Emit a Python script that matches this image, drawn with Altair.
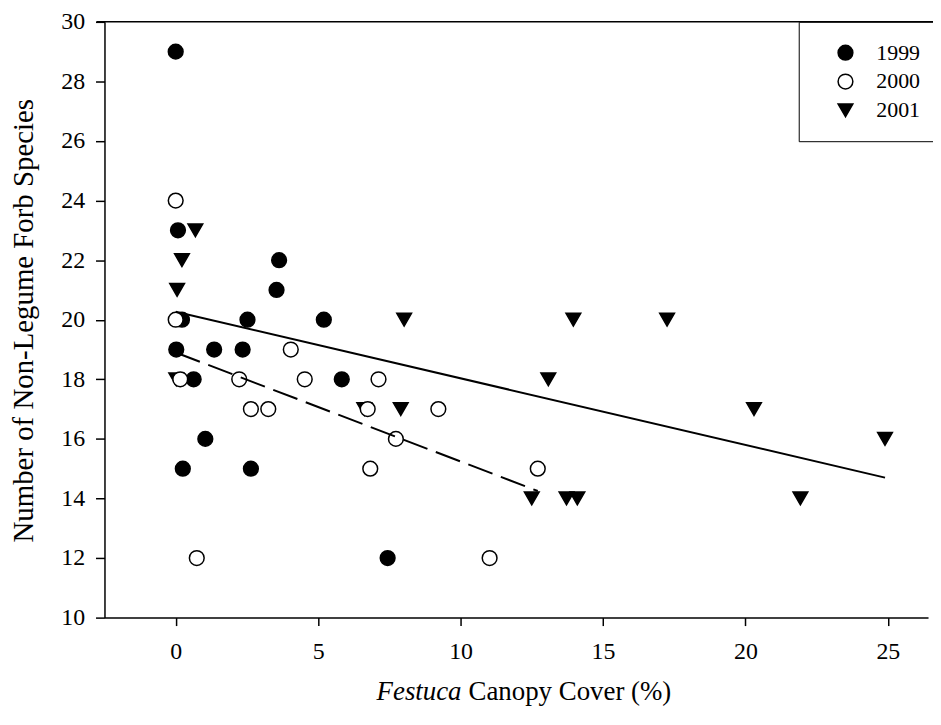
import altair as alt
import pandas as pd

# ---- data ----
years = ["1999", "2000", "2001"]

x_1999 = [0, 0.08, 3.63, 3.54, 0.22, 2.52, 5.2, 0.02, 1.35, 2.35, 0.63, 5.83, 1.04, 0.25, 2.64, 7.44]
y_1999 = [29, 23, 22, 21, 20, 20, 20, 19, 19, 19, 18, 18, 16, 15, 15, 12]

x_2000 = [0, 0, 4.04, 0.16, 2.23, 4.53, 7.12, 2.64, 3.25, 6.74, 9.22, 7.73, 6.83, 12.71, 0.74, 11.02]
y_2000 = [24, 20, 19, 18, 18, 18, 18, 17, 17, 17, 17, 16, 15, 15, 12, 12]

x_2001 = [0.69, 0.22, 0.05, 0.02, 8.02, 13.96, 17.25, 13.08, 6.62, 7.9, 20.3, 24.9, 12.5, 13.72, 14.1, 21.93]
y_2001 = [23, 22, 21, 18, 20, 20, 20, 18, 17, 17, 17, 16, 14, 14, 14, 14]

# regression lines (end points)
fit_solid_x = [0, 24.9]
fit_solid_y = [20.27, 14.7]
fit_dash_x = [0, 12.71]
fit_dash_y = [18.9, 14.25]

x_ticks = [0, 5, 10, 15, 20, 25]
y_ticks = [10, 12, 14, 16, 18, 20, 22, 24, 26, 28, 30]

# draw order: 2001, 1999, 2000 (2000 open circles on top)
rows = []
for yr, xs, ys in (("2001", x_2001, y_2001), ("1999", x_1999, y_1999), ("2000", x_2000, y_2000)):
    for a, b in zip(xs, ys):
        rows.append({"cover": a, "species": b, "year": yr})
pts = pd.DataFrame(rows)

solid_df = pd.DataFrame({"cover": fit_solid_x, "species": fit_solid_y})
dash_df = pd.DataFrame({"cover": fit_dash_x, "species": fit_dash_y})

W, H = 828, 599
FONT = "Liberation Serif"

xscale = alt.Scale(domain=[-2.5, 26.41], nice=False, zero=False)
yscale = alt.Scale(domain=[10, 30], nice=False, zero=False)

xaxis = alt.Axis(values=x_ticks, title=None, tickSize=8, labelPadding=14, labelFontSize=24,
                 domainWidth=1.5, tickWidth=1.5)
yaxis = alt.Axis(values=y_ticks, title="Number of Non-Legume Forb Species", tickSize=9,
                 labelPadding=11, labelFontSize=24, domainWidth=1.5, tickWidth=1.5,
                 titleFontSize=29, titleAngle=-90, titleX=-72, titleY=300,
                 titleAlign="center", titleBaseline="alphabetic")

legend = alt.Legend(orient="none", legendX=698, legendY=0, title=None,
                    strokeColor="black", padding=20, fillColor="white",
                    labelFont=FONT, labelFontSize=22, labelColor="black",
                    symbolSize=220, symbolStrokeColor="black", symbolStrokeWidth=1.5,
                    symbolOffset=16, labelOffset=20, rowPadding=7, symbolOpacity=1)

points = alt.Chart(pts).mark_point(filled=True, strokeWidth=1.5, opacity=1, size=220).encode(
    x=alt.X("cover:Q", scale=xscale, axis=xaxis),
    y=alt.Y("species:Q", scale=yscale, axis=yaxis),
    shape=alt.Shape("year:N", scale=alt.Scale(domain=years, range=["circle", "circle", "triangle-down"]), legend=legend),
    fill=alt.Fill("year:N", scale=alt.Scale(domain=years, range=["black", "white", "black"]), legend=legend),
    stroke=alt.Stroke("year:N", scale=alt.Scale(domain=years, range=["black", "black", "black"]), legend=legend),
)

solid = alt.Chart(solid_df).mark_line(color="black", strokeWidth=2).encode(
    x=alt.X("cover:Q", scale=xscale), y=alt.Y("species:Q", scale=yscale))
dashed = alt.Chart(dash_df).mark_line(color="black", strokeWidth=2, strokeDash=[26, 9]).encode(
    x=alt.X("cover:Q", scale=xscale), y=alt.Y("species:Q", scale=yscale))

top_rule = alt.Chart(pd.DataFrame({"k": [0]})).mark_rule(color="black", strokeWidth=1.5).encode(
    x=alt.value(-8), x2=alt.value(W + 5), y=alt.value(0))

title_it = alt.Chart(pd.DataFrame({"t": ["Festuca"]})).mark_text(
    align="right", baseline="alphabetic", font=FONT, fontSize=27, fontStyle="italic", color="black").encode(
    text="t:N", x=alt.value(359), y=alt.value(682))
title_rest = alt.Chart(pd.DataFrame({"t": ["Canopy Cover (%)"]})).mark_text(
    align="left", baseline="alphabetic", font=FONT, fontSize=27, color="black").encode(
    text="t:N", x=alt.value(366), y=alt.value(682))

chart = alt.layer(points, solid, dashed, top_rule, title_it, title_rest).properties(
    width=W, height=H,
    autosize=alt.AutoSizeParams(type="none"),
    padding={"left": 97, "top": 12, "right": 5, "bottom": 96},
).configure_view(stroke=None).configure_axis(
    grid=False, domainColor="black", tickColor="black", labelColor="black",
    labelFont=FONT, titleFont=FONT, titleColor="black", titleFontWeight="normal",
)

chart.save("out.html", embed_options={"renderer": "svg", "actions": False})
